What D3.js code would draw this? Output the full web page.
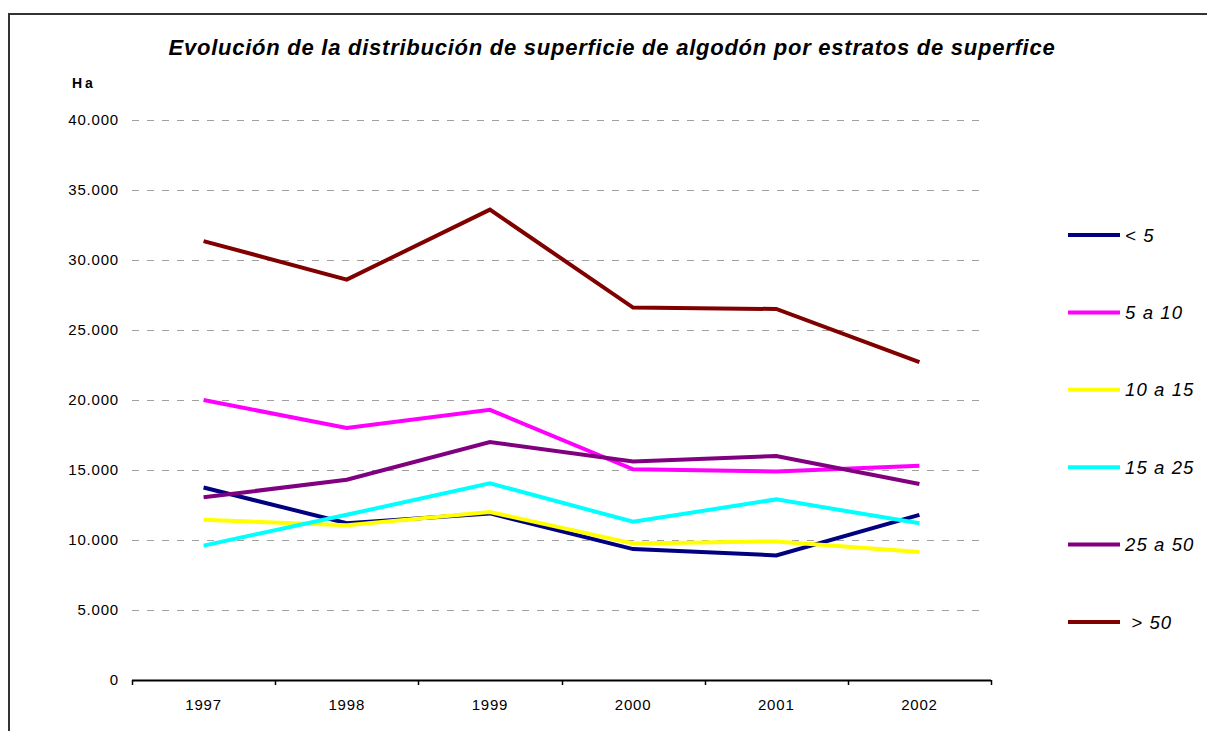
<!DOCTYPE html>
<html lang="es">
<head>
<meta charset="UTF-8">
<title>Evolución de la distribución de superficie de algodón</title>
<style>
body {
  margin: 0;
  background: #fff;
  font-family: Arial, "Liberation Sans", sans-serif;
}
svg text { fill: #000; }
.ylbl { font-size: 15px; letter-spacing: 0.8px; }
.xlbl { font-size: 15px; letter-spacing: 0.8px; }
</style>
</head>
<body>
<svg id="chart" width="1207" height="731"></svg>
<script src="https://cdn.jsdelivr.net/npm/d3@7"></script>
<script>
/* global d3 */

// data (hectares)
var years = ["1997", "1998", "1999", "2000", "2001", "2002"];
var seriesNames = ["< 5", "5 a 10", "10 a 15", "15 a 25", "25 a 50", " > 50"];
var seriesColors = ["#000080", "#ff00ff", "#ffff00", "#00ffff", "#800080", "#800000"];
var lt5     = [13750, 11200, 11900, 9350, 8900, 11800];
var s5a10   = [20000, 18000, 19300, 15050, 14900, 15300];
var s10a15  = [11450, 11050, 12000, 9750, 9900, 9150];
var s15a25  = [9600, 11800, 14050, 11300, 12900, 11200];
var s25a50  = [13050, 14300, 17000, 15600, 16000, 14000];
var gt50    = [31350, 28600, 33600, 26600, 26500, 22700];
var yTicks  = [0, 5000, 10000, 15000, 20000, 25000, 30000, 35000, 40000];

var allSeries = [lt5, s5a10, s10a15, s15a25, s25a50, gt50];

var svg = d3.select("#chart");

var es = d3.formatLocale({decimal: ",", thousands: ".", grouping: [3], currency: ["", ""]});
var fmt = es.format(",d");

var x = d3.scaleBand().domain(years).range([132, 991]);
var y = d3.scaleLinear().domain([0, 40000]).range([680, 120]);

// outer frame (runs off the right / bottom edge like the screenshot)
svg.append("path")
  .attr("d", "M9,731 V14 H1207")
  .attr("fill", "none")
  .attr("stroke", "#333")
  .attr("stroke-width", 2);

// title
svg.append("text")
  .attr("x", 612)
  .attr("y", 55)
  .attr("text-anchor", "middle")
  .style("font-size", "22px")
  .style("font-weight", "bold")
  .style("font-style", "italic")
  .style("letter-spacing", "0.75px")
  .text("Evolución de la distribución de superficie de algodón por estratos de superfice");

svg.append("text")
  .attr("x", 72)
  .attr("y", 88)
  .style("font-size", "14px")
  .style("font-weight", "bold")
  .style("letter-spacing", "3px")
  .text("Ha");

// gridlines
svg.append("g")
  .selectAll("line")
  .data(yTicks.filter(function (d) { return d > 0; }))
  .join("line")
  .attr("x1", 132).attr("x2", 986)
  .attr("y1", function (d) { return Math.round(y(d)) + 0.5; })
  .attr("y2", function (d) { return Math.round(y(d)) + 0.5; })
  .attr("stroke", "#a0a0a0")
  .attr("stroke-width", 1)
  .attr("stroke-dasharray", "7,8");

// y labels
svg.append("g")
  .selectAll("text")
  .data(yTicks)
  .join("text")
  .attr("class", "ylbl")
  .attr("x", 119)
  .attr("y", function (d) { return y(d) + 5; })
  .attr("text-anchor", "end")
  .text(function (d) { return fmt(d); });

// x axis
var xAxis = d3.axisBottom(x).tickSize(0).tickPadding(0);
var gx = svg.append("g").attr("transform", "translate(0,680)").call(xAxis);
gx.select(".domain").remove();
gx.selectAll(".tick line").remove();
gx.selectAll(".tick text")
  .attr("class", "xlbl")
  .attr("y", 30)
  .attr("dy", null)
  .attr("font-family", null)
  .attr("font-size", null);

svg.append("line")
  .attr("x1", 132).attr("x2", 991)
  .attr("y1", 680.5).attr("y2", 680.5)
  .attr("stroke", "#000").attr("stroke-width", 2);

var bounds = years.map(function (d) { return x(d); }).concat([x.range()[1]]);
svg.append("g")
  .selectAll("line")
  .data(bounds)
  .join("line")
  .attr("x1", function (d) { return Math.round(d) + 0.5; })
  .attr("x2", function (d) { return Math.round(d) + 0.5; })
  .attr("y1", 680).attr("y2", 685)
  .attr("stroke", "#000").attr("stroke-width", 1.5);

// series lines
var line = d3.line()
  .x(function (d, i) { return x(years[i]) + x.bandwidth() / 2; })
  .y(function (d) { return y(d); });

svg.append("g")
  .selectAll("path")
  .data(allSeries)
  .join("path")
  .attr("d", line)
  .attr("fill", "none")
  .attr("stroke", function (d, i) { return seriesColors[i]; })
  .attr("stroke-width", 4)
  .attr("stroke-linejoin", "miter");

// legend
var legend = svg.append("g")
  .selectAll("g")
  .data(seriesNames)
  .join("g")
  .attr("transform", function (d, i) { return "translate(1068," + (235 + i * 77.4) + ")"; });

legend.append("line")
  .attr("x1", 0).attr("x2", 52)
  .attr("stroke", function (d, i) { return seriesColors[i]; })
  .attr("stroke-width", 4);

legend.append("text")
  .attr("x", 57)
  .attr("y", 6.5)
  .style("font-size", "18.5px")
  .style("font-style", "italic")
  .style("letter-spacing", "1.1px")
  .style("white-space", "pre")
  .text(function (d) { return d; });
</script>
</body>
</html>
